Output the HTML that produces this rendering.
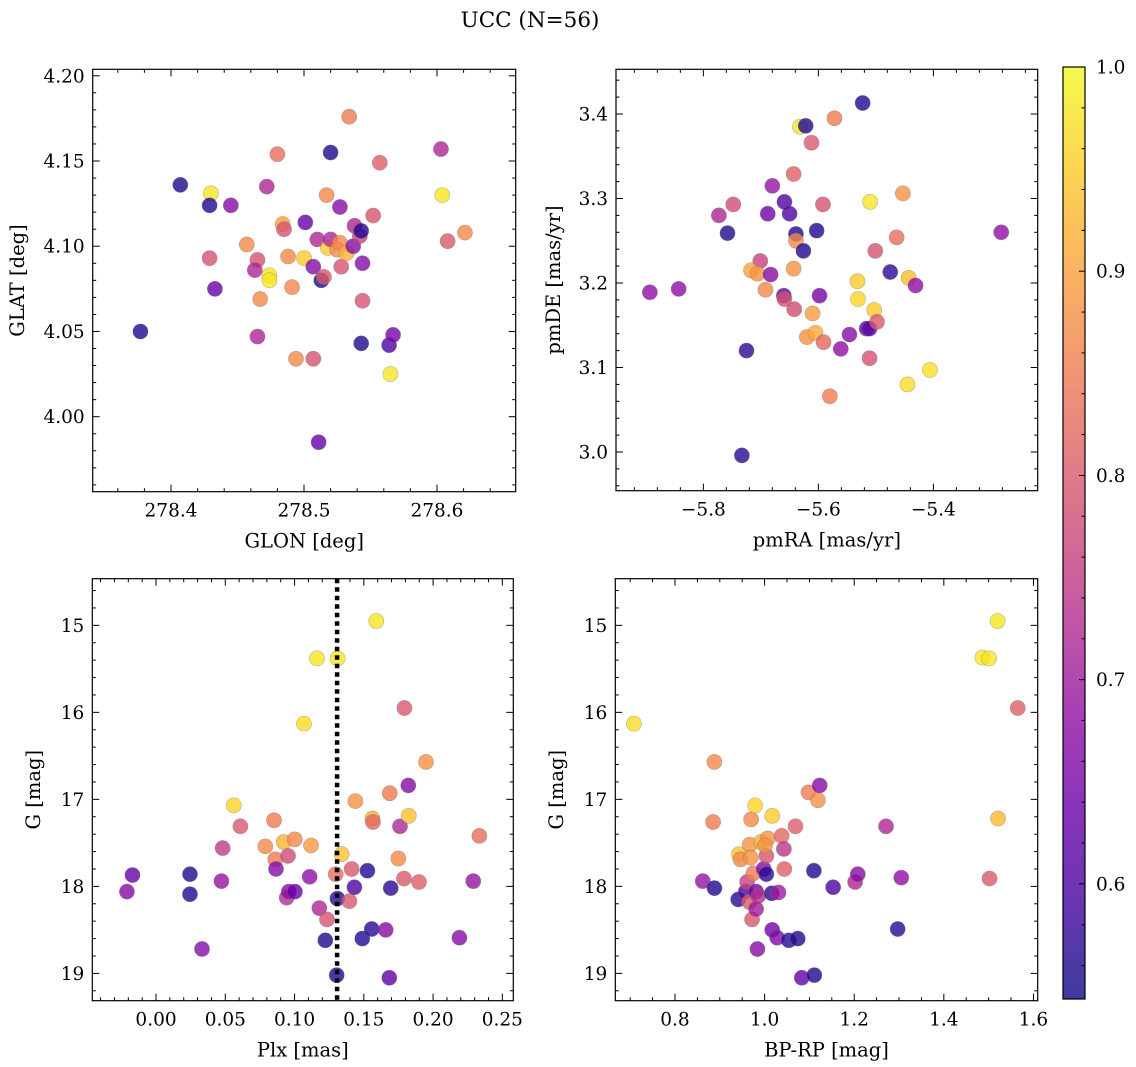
<!DOCTYPE html>
<html><head><meta charset="utf-8">
<style>
html,body{margin:0;padding:0;background:#fff;}
svg{display:block;font-family:"DejaVu Serif","Liberation Serif",serif;}
</style></head>
<body>
<svg id="fig" width="1136" height="1067" viewBox="0 0 1136 1067" xmlns="http://www.w3.org/2000/svg">
<defs>
<linearGradient id="cbgrad" x1="0" y1="1" x2="0" y2="0"></linearGradient>
</defs>
<text x="530" y="27" font-size="21.5" text-anchor="middle">UCC (N=56)</text>
</svg>
<script>
// ---- Panel 1: GLON / GLAT ----
const glon = [278.377,278.407,278.430,278.429,278.445,278.429,278.433,278.457,278.472,278.480,278.465,278.463,278.465,278.467,278.474,278.474,278.484,278.485,278.488,278.491,278.494,278.500,278.501,278.507,278.507,278.511,278.510,278.513,278.515,278.517,278.520,278.518,278.520,278.525,278.527,278.527,278.528,278.532,278.534,278.537,278.538,278.542,278.543,278.544,278.544,278.543,278.552,278.557,278.564,278.567,278.565,278.603,278.604,278.608,278.621];
const glat = [4.050,4.136,4.131,4.124,4.124,4.093,4.075,4.101,4.135,4.154,4.092,4.086,4.047,4.069,4.083,4.080,4.113,4.110,4.094,4.076,4.034,4.093,4.114,4.088,4.034,3.985,4.104,4.080,4.082,4.130,4.155,4.099,4.104,4.098,4.102,4.123,4.088,4.096,4.176,4.100,4.112,4.106,4.109,4.090,4.068,4.043,4.118,4.149,4.042,4.048,4.025,4.157,4.130,4.103,4.108];
const prob1 = [0.56,0.56,0.98,0.56,0.67,0.79,0.63,0.87,0.72,0.83,0.79,0.72,0.72,0.87,0.98,0.98,0.90,0.79,0.87,0.87,0.87,0.95,0.63,0.67,0.79,0.63,0.72,0.56,0.80,0.87,0.56,0.95,0.72,0.87,0.87,0.67,0.79,0.92,0.85,0.67,0.72,0.76,0.56,0.67,0.79,0.56,0.79,0.81,0.60,0.65,0.98,0.72,0.98,0.80,0.87];
// ---- Panel 2: pmRA / pmDE ----
const pmra = [-5.893,-5.843,-5.773,-5.748,-5.758,-5.725,-5.733,-5.701,-5.717,-5.706,-5.683,-5.692,-5.680,-5.688,-5.659,-5.650,-5.660,-5.659,-5.642,-5.643,-5.643,-5.639,-5.639,-5.626,-5.632,-5.622,-5.612,-5.603,-5.610,-5.620,-5.605,-5.598,-5.592,-5.591,-5.572,-5.580,-5.561,-5.546,-5.532,-5.531,-5.523,-5.516,-5.511,-5.510,-5.511,-5.503,-5.498,-5.501,-5.475,-5.464,-5.453,-5.443,-5.431,-5.445,-5.406,-5.282];
const pmde = [3.189,3.193,3.280,3.293,3.259,3.120,2.996,3.226,3.215,3.211,3.210,3.192,3.315,3.282,3.296,3.282,3.185,3.181,3.169,3.217,3.329,3.258,3.250,3.238,3.385,3.386,3.366,3.262,3.164,3.136,3.141,3.185,3.293,3.130,3.395,3.066,3.122,3.139,3.202,3.181,3.413,3.146,3.146,3.296,3.111,3.168,3.154,3.238,3.213,3.254,3.306,3.206,3.197,3.080,3.097,3.260];
const prob2 = [0.68,0.68,0.72,0.78,0.56,0.57,0.57,0.76,0.90,0.88,0.67,0.87,0.69,0.64,0.60,0.60,0.62,0.79,0.78,0.88,0.81,0.56,0.87,0.56,0.98,0.56,0.80,0.56,0.89,0.88,0.91,0.65,0.79,0.82,0.85,0.85,0.68,0.67,0.95,0.96,0.56,0.62,0.62,0.98,0.79,0.95,0.80,0.79,0.57,0.83,0.88,0.93,0.68,0.97,0.97,0.68];
// ---- Panel 3: Plx / G ----
const plx = [-0.021,-0.017,0.0245,0.0245,0.0332,0.0472,0.0481,0.0561,0.0609,0.0789,0.0852,0.0861,0.0866,0.0922,0.1001,0.0953,0.0943,0.0958,0.1003,0.1068,0.1109,0.1119,0.1162,0.1179,0.1234,0.1222,0.1311,0.1304,0.1297,0.1340,0.1309,0.1396,0.1412,0.1432,0.1439,0.1489,0.1526,0.1557,0.1562,0.1566,0.1590,0.1658,0.1684,0.1694,0.1687,0.1749,0.1761,0.1793,0.1790,0.1821,0.1824,0.1898,0.1949,0.2190,0.2290,0.2334];
const gmag3 = [18.06,17.87,17.86,18.09,18.72,17.94,17.56,17.07,17.31,17.54,17.24,17.69,17.80,17.49,17.46,17.65,18.13,18.06,18.06,16.13,17.89,17.53,15.38,18.25,18.38,18.62,15.38,19.02,17.86,17.63,18.14,18.17,17.80,18.01,17.02,18.60,17.82,18.49,17.22,17.26,14.95,18.50,19.05,18.02,16.93,17.68,17.31,15.95,17.91,16.84,17.19,17.95,16.57,18.59,17.94,17.42];
const prob3 = [0.67,0.63,0.56,0.56,0.67,0.69,0.75,0.96,0.80,0.87,0.85,0.85,0.67,0.92,0.87,0.78,0.73,0.67,0.63,0.97,0.68,0.89,0.98,0.72,0.79,0.56,0.98,0.56,0.83,0.94,0.57,0.80,0.80,0.60,0.88,0.56,0.56,0.57,0.92,0.82,0.98,0.67,0.62,0.57,0.85,0.87,0.72,0.80,0.80,0.67,0.94,0.81,0.88,0.67,0.69,0.83];
// ---- Panel 4: BP-RP / G ----
const bprp = [0.7085,0.888,0.885,0.862,0.888,0.941,0.943,0.946,0.958,0.961,0.966,0.972,0.967,0.969,0.970,0.975,0.979,0.981,0.986,0.981,0.984,0.992,0.998,1.004,1.004,1.007,1.001,1.016,1.017,1.017,1.028,1.031,1.038,1.043,1.044,1.054,1.074,1.069,1.083,1.098,1.111,1.110,1.119,1.123,1.153,1.202,1.208,1.271,1.305,1.297,1.486,1.501,1.520,1.521,1.502,1.565];
const gmag4 = [16.13,16.57,17.26,17.94,18.02,18.15,17.63,17.69,18.06,17.95,18.18,18.38,17.52,17.67,17.23,17.85,17.07,18.06,18.11,18.26,18.72,17.49,17.80,17.86,17.65,17.45,17.53,18.08,18.50,17.19,18.59,18.07,17.42,17.57,17.80,18.62,18.60,17.31,19.05,16.92,19.02,17.82,17.01,16.84,18.01,17.95,17.86,17.31,17.90,18.49,15.37,15.38,14.95,17.22,17.91,15.95];
const prob4 = [0.97,0.87,0.85,0.69,0.56,0.57,0.94,0.87,0.60,0.76,0.80,0.80,0.88,0.88,0.87,0.85,0.96,0.65,0.73,0.70,0.67,0.92,0.66,0.57,0.79,0.88,0.88,0.57,0.64,0.95,0.66,0.70,0.82,0.74,0.81,0.57,0.56,0.81,0.62,0.85,0.56,0.56,0.88,0.67,0.60,0.72,0.67,0.72,0.68,0.57,0.98,0.98,0.98,0.93,0.80,0.81];
const plxLine = 0.1307;
const cbTicks = [0.6,0.7,0.8,0.9,1.0];

const NS = "http://www.w3.org/2000/svg";
const svg = document.getElementById('fig');
const PMIN = 0.5436, PMAX = 1.0;
const plasma = [[13,8,135],[65,4,157],[106,0,168],[143,13,164],[177,42,144],[204,71,120],[225,100,98],[242,132,75],[252,166,54],[252,206,37],[240,249,33]];
function cmap(t){t=Math.max(0,Math.min(1,t));const f=t*10,i=Math.min(9,Math.floor(f)),u=f-i;const a=plasma[i],b=plasma[i+1];
 return 'rgb('+a.map((v,k)=>Math.round(v+(b[k]-v)*u)).join(',')+')';}
function mk(tag,attrs,parent){const e=document.createElementNS(NS,tag);for(const k in attrs)e.setAttribute(k,attrs[k]);(parent||svg).appendChild(e);return e;}
function fmt(v,d){let s=v.toFixed(d);if(v<0)s='\u2212'+s.slice(1);return s;}
const TFS=18.5, LFS=19.5;

function panel(cfg){
 const g=mk('g',{});
 
 
 const {L,T,R,B}=cfg;
 const sx=v=>L+(v-cfg.xmin)/(cfg.xmax-cfg.xmin)*(R-L);
 const sy=cfg.yinv? (v=>T+(v-cfg.ymin)/(cfg.ymax-cfg.ymin)*(B-T)) : (v=>B-(v-cfg.ymin)/(cfg.ymax-cfg.ymin)*(B-T));
 const eps=1e-9;
 for(let v=Math.ceil(cfg.xmin/cfg.xminor-eps)*cfg.xminor; v<=cfg.xmax+eps; v+=cfg.xminor){
  const x=sx(v);const major=Math.abs(v/cfg.xmajor-Math.round(v/cfg.xmajor))<1e-6;const len=major?7:3.5;
  mk('line',{x1:x,y1:B,x2:x,y2:B-len,stroke:'#000','stroke-width':1},g);
  mk('line',{x1:x,y1:T,x2:x,y2:T+len,stroke:'#000','stroke-width':1},g);
  if(major){const t=mk('text',{x:x,y:B+25,'font-size':TFS,'text-anchor':'middle'},g);t.textContent=fmt(v,cfg.xdec);
   
   }
 }
 for(let v=Math.ceil(cfg.ymin/cfg.yminor-eps)*cfg.yminor; v<=cfg.ymax+eps; v+=cfg.yminor){
  const y=sy(v);const major=Math.abs(v/cfg.ymajor-Math.round(v/cfg.ymajor))<1e-6;const len=major?7:3.5;
  mk('line',{x1:L,y1:y,x2:L+len,y2:y,stroke:'#000','stroke-width':1},g);
  mk('line',{x1:R,y1:y,x2:R-len,y2:y,stroke:'#000','stroke-width':1},g);
  if(major){const t=mk('text',{x:L-8,y:y+6.5,'font-size':TFS,'text-anchor':'end'},g);t.textContent=fmt(v,cfg.ydec);
   
   }
 }
 for(let i=0;i<cfg.xs.length;i++){
  const c=mk('circle',{cx:sx(cfg.xs[i]),cy:sy(cfg.ys[i]),r:7.6,fill:cmap((cfg.ps[i]-PMIN)/(PMAX-PMIN)),'fill-opacity':0.8,stroke:'#777','stroke-opacity':0.5,'stroke-width':0.6},g);
  
  
 }
 if(cfg.vline!==undefined){const x=sx(cfg.vline);
  const l=mk('line',{x1:x,y1:T,x2:x,y2:B,stroke:'#000','stroke-width':4.5,'stroke-dasharray':'4.5 4'},g);
  
  }
 const f=mk('rect',{x:L,y:T,width:R-L,height:B-T,fill:'none',stroke:'#000','stroke-width':1.2},g);
 
 
 const xl=mk('text',{x:(L+R)/2,y:B+56,'font-size':LFS,'text-anchor':'middle'},g);xl.textContent=cfg.xlabel;
 
 
 const yl=mk('text',{x:0,y:0,'font-size':LFS,'text-anchor':'middle',transform:'translate('+cfg.ylx+','+((T+B)/2)+') rotate(-90)'},g);yl.textContent=cfg.ylabel;
 
 
}

panel({name:'glon-glat-panel',L:92.7,T:69.3,R:515.7,B:491.7,xmin:278.3411,xmax:278.6592,ymin:3.956,ymax:4.2038,
 xmajor:0.1,xminor:0.02,xdec:1,ymajor:0.05,yminor:0.01,ydec:2,xs:glon,ys:glat,ps:prob1,xlabel:'GLON [deg]',ylabel:'GLAT [deg]',ylx:24});
panel({name:'pmra-pmde-panel',L:616,T:69.3,R:1037.7,B:490.7,xmin:-5.9519,xmax:-5.2186,ymin:2.9542,ymax:3.4529,
 xmajor:0.2,xminor:0.04,xdec:1,ymajor:0.1,yminor:0.02,ydec:1,xs:pmra,ys:pmde,ps:prob2,xlabel:'pmRA [mas/yr]',ylabel:'pmDE [mas/yr]',ylx:560});
panel({name:'plx-g-panel',L:92.3,T:578.7,R:513.3,B:1000.7,xmin:-0.046,xmax:0.2579,ymin:14.464,ymax:19.314,yinv:true,
 xmajor:0.05,xminor:0.01,xdec:2,ymajor:1,yminor:0.2,ydec:0,xs:plx,ys:gmag3,ps:prob3,vline:plxLine,xlabel:'Plx [mas]',ylabel:'G [mag]',ylx:40});
panel({name:'bprp-g-panel',L:615.3,T:578.7,R:1037.7,B:1000.7,xmin:0.6668,xmax:1.6095,ymin:14.464,ymax:19.314,yinv:true,
 xmajor:0.2,xminor:0.05,xdec:1,ymajor:1,yminor:0.2,ydec:0,xs:bprp,ys:gmag4,ps:prob4,xlabel:'BP-RP [mag]',ylabel:'G [mag]',ylx:563});

// colorbar
const grad=document.getElementById('cbgrad');
for(let i=0;i<=10;i++){mk('stop',{offset:(i*10)+'%','stop-color':cmap(i/10),'stop-opacity':0.8},grad);}
const CL=1063,CR=1085,CT=67,CB=999;
const cy=v=>CB-(v-PMIN)/(PMAX-PMIN)*(CB-CT);
const cbg=mk('g',{});


mk('rect',{x:CL,y:CT,width:CR-CL,height:CB-CT,fill:'url(#cbgrad)',stroke:'#000','stroke-width':1.2},cbg);
for(let v=0.56;v<=1.0001;v+=0.02){const y=cy(v);const major=Math.abs(v*10-Math.round(v*10))<1e-6;
 mk('line',{x1:CR,y1:y,x2:CR-(major?6:3.5),y2:y,stroke:'#000','stroke-width':1},cbg);}
cbTicks.forEach(v=>{const t=mk('text',{x:CR+11,y:cy(v)+6.5,'font-size':TFS},cbg);t.textContent=v.toFixed(1);
 
 });
</script>
</body></html>
